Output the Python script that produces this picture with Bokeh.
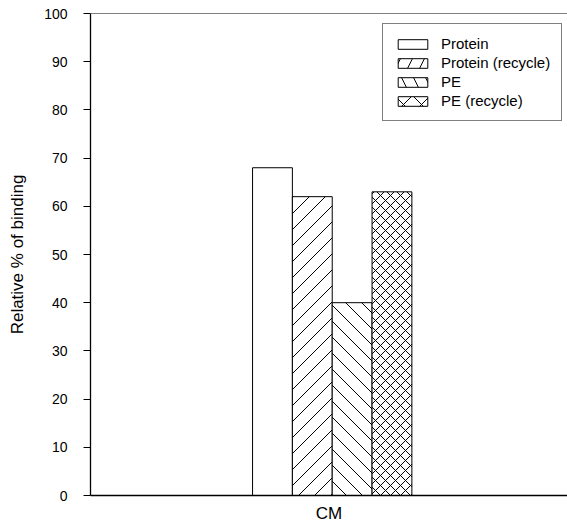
import math
from bokeh.plotting import figure
from bokeh.models import (ColumnDataSource, Range1d, FactorRange, SingleIntervalTicker,
                          Legend, LegendItem, Span)
from bokeh.transform import dodge
from bokeh.embed import file_html
from bokeh.resources import INLINE

# ---- data ----
categories = ["CM"]
series = ["Protein", "Protein (recycle)", "PE", "PE (recycle)"]
values = [68, 62, 40, 63]
y_tick_step = 10
y_min, y_max = 0, 100

# ---- style ----
FONT = "Liberation Sans"
W, H = 567, 525
B_LEFT, B_RIGHT, B_TOP, B_BOTTOM = 90, 0, 13, 30
FRAME_W = W - B_LEFT - B_RIGHT
FRAME_H = H - B_TOP - B_BOTTOM
PX_X = FRAME_W / 1.0                 # px per categorical unit
PX_Y = FRAME_H / (y_max - y_min)     # px per value unit
bar_w = 0.0835
start = 0.3815 - 0.5
# hatch directions (+1 "/", -1 "\") and spacing in px for each series
hatch_dirs = [[], [1], [-1], [1, -1]]
hatch_gap = [13, 16, 16, 10]
legend_hatch = [" ", "right_diagonal_line", "left_diagonal_line", "diagonal_cross"]
legend_scale = [12, 24, 24, 18]


def hatch_segments(center, top, dirs, gap):
    """45-degree hatch segments clipped to a bar (computed in px, returned in data)."""
    XL = (center - bar_w / 2) * PX_X
    XR = (center + bar_w / 2) * PX_X
    T = (top - y_min) * PX_Y
    x0s, y0s, x1s, y1s = [], [], [], []
    for d in dirs:
        if d == 1:      # y = x + k
            kmin, kmax = -XR, T - XL
        else:           # y = -x + k
            kmin, kmax = XL, T + XR
        n0 = math.ceil(kmin / gap)
        n1 = math.floor(kmax / gap)
        for n in range(n0, n1 + 1):
            k = n * gap
            if d == 1:
                xa, xb = max(XL, -k), min(XR, T - k)
            else:
                xa, xb = max(XL, k - T), min(XR, k)
            if xb - xa < 0.5:
                continue
            ya_, yb_ = d * xa + k, d * xb + k
            x0s.append(xa / PX_X); x1s.append(xb / PX_X)
            y0s.append(ya_ / PX_Y + y_min); y1s.append(yb_ / PX_Y + y_min)
    return x0s, y0s, x1s, y1s


p = figure(width=W, height=H, x_range=FactorRange(factors=categories),
           y_range=Range1d(y_min, y_max), output_backend="svg",
           toolbar_location=None, min_border_left=B_LEFT, min_border_right=B_RIGHT,
           min_border_top=B_TOP, min_border_bottom=B_BOTTOM)
p.x_range.range_padding = 0
p.outline_line_color = None
p.xgrid.visible = False
p.ygrid.visible = False
p.background_fill_color = "white"
p.border_fill_color = "white"

legend_items = []
for i, (name, val) in enumerate(zip(series, values)):
    off = start + i * bar_w
    src = ColumnDataSource(dict(x=categories, top=[val]))
    p.vbar(x=dodge("x", off, range=p.x_range), top="top", bottom=y_min,
           width=bar_w, source=src, fill_color="white", line_color="black", line_width=1)
    if hatch_dirs[i]:
        x0, y0, x1, y1 = hatch_segments(0.5 + off, val, hatch_dirs[i], hatch_gap[i])
        p.segment(x0=x0, y0=y0, x1=x1, y1=y1, line_color="black", line_width=1)
    # legend-only proxy carrying the swatch style
    proxy = p.vbar(x=categories, top=[float("nan")], bottom=y_min, width=bar_w,
                   fill_color="white", line_color="black", line_width=1,
                   hatch_pattern=legend_hatch[i], hatch_color="black",
                   hatch_weight=1, hatch_scale=legend_scale[i])
    legend_items.append(LegendItem(label=name, renderers=[proxy]))

# top frame line
p.add_layout(Span(location=y_max, dimension="width", line_color="black", line_width=1))

# y axis
ya = p.yaxis[0]
ya.ticker = SingleIntervalTicker(interval=y_tick_step)
ya.axis_label = "Relative % of binding"
ya.axis_label_text_font = FONT
ya.axis_label_text_font_size = "17px"
ya.axis_label_text_font_style = "normal"
ya.axis_label_text_color = "black"
ya.axis_label_standoff = 14
ya.major_label_text_font = FONT
ya.major_label_text_font_size = "14px"
ya.major_label_text_color = "black"
ya.major_label_standoff = 16
ya.major_tick_out = 7
ya.major_tick_in = 0
ya.minor_tick_line_color = None
ya.axis_line_color = "black"
ya.axis_line_width = 1.3
ya.major_tick_line_color = "black"

# x axis
xa = p.xaxis[0]
xa.major_label_text_font = FONT
xa.major_label_text_font_size = "17px"
xa.major_label_text_color = "black"
xa.major_tick_line_color = None
xa.major_tick_out = 0
xa.major_label_standoff = 8
xa.axis_line_color = "black"
xa.axis_line_width = 1.6

legend = Legend(items=legend_items,
                location=(292, 374), glyph_width=37, glyph_height=12,
                label_height=16, spacing=2, padding=11, margin=0,
                label_standoff=10, label_text_font=FONT,
                label_text_font_size="15px", label_text_color="black",
                border_line_color="black", border_line_width=1,
                background_fill_color="white", background_fill_alpha=1)
p.add_layout(legend, "center")

open("out.html", "w").write(file_html(p, INLINE))
